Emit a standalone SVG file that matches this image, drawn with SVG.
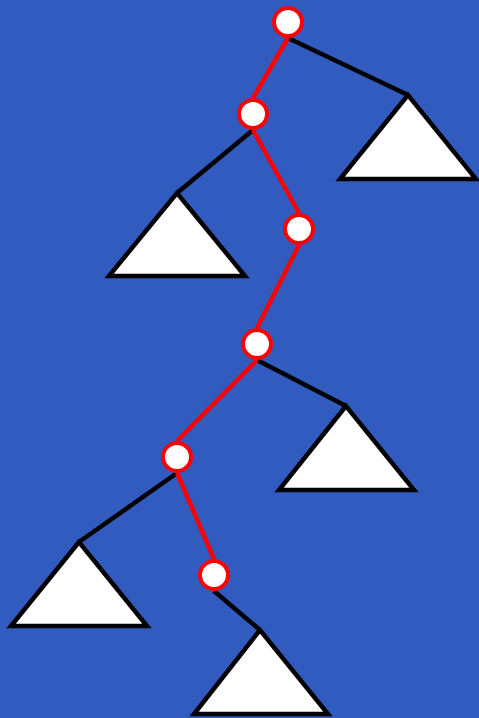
<svg xmlns="http://www.w3.org/2000/svg" width="479" height="718" viewBox="0 0 479 718">
<style>
.bg{fill:#325BC0}
.tri{fill:#fff;stroke:#000;stroke-width:4.5;stroke-linejoin:miter}
.blk{stroke:#000;stroke-width:4.5;fill:none}
.red{stroke:#f00;stroke-width:4.5;fill:none}
.nd{fill:#fff;stroke:#f00;stroke-width:4}
</style>
<rect class="bg" x="0" y="0" width="479" height="718"/>
<g id="connectors">
<line class="blk" x1="288" y1="38" x2="408" y2="95"/>
<line class="blk" x1="253" y1="130" x2="177" y2="193"/>
<line class="blk" x1="257" y1="360" x2="346" y2="406"/>
<line class="blk" x1="177" y1="473" x2="79" y2="542"/>
<line class="blk" x1="214" y1="591" x2="260" y2="630"/>
<line class="red" x1="288" y1="38" x2="253" y2="98"/>
<line class="red" x1="253" y1="130" x2="299" y2="213"/>
<line class="red" x1="299" y1="245" x2="257" y2="328"/>
<line class="red" x1="257" y1="360" x2="177" y2="441"/>
<line class="red" x1="177" y1="473" x2="214" y2="559"/>
</g>
<g id="t1"><polygon class="tri" points="408,95 340,179 476,179"/></g>
<g id="t2"><polygon class="tri" points="177,193 109,276 245,276"/></g>
<g id="t3"><polygon class="tri" points="346,406 279,490 414,490"/></g>
<g id="t4"><polygon class="tri" points="79,542 11,626 147,626"/></g>
<g id="t5"><polygon class="tri" points="260,630 194,714 328,714"/></g>
<g id="n1"><circle class="nd" cx="288" cy="22" r="14"/></g>
<g id="n2"><circle class="nd" cx="253" cy="114" r="14"/></g>
<g id="n3"><circle class="nd" cx="299" cy="229" r="14"/></g>
<g id="n4"><circle class="nd" cx="257" cy="344" r="14"/></g>
<g id="n5"><circle class="nd" cx="177" cy="457" r="14"/></g>
<g id="n6"><circle class="nd" cx="214" cy="575" r="14"/></g>
</svg>
